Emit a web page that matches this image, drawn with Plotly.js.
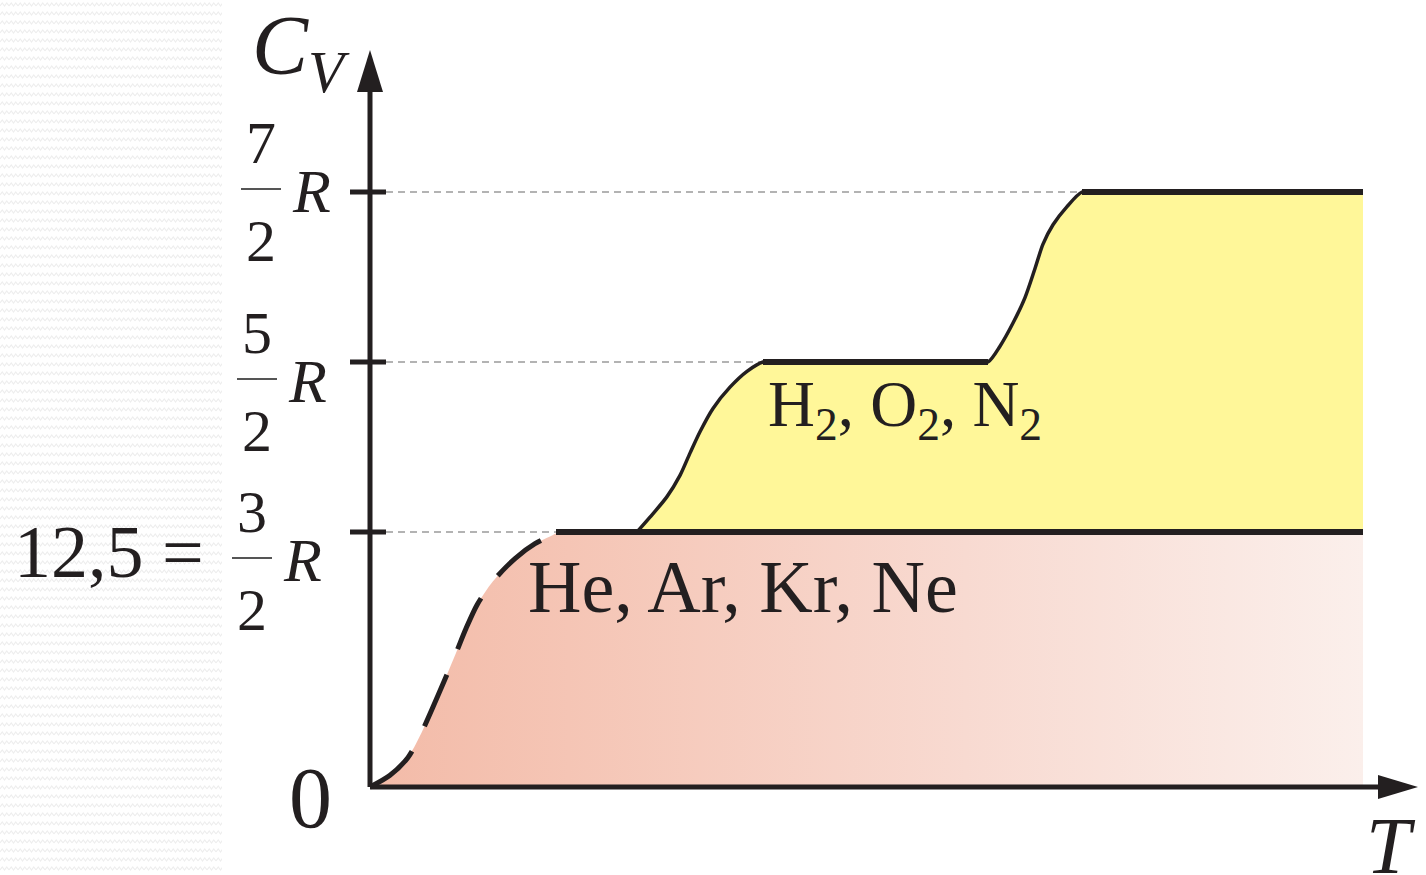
<!DOCTYPE html>
<html>
<head>
<meta charset="utf-8">
<script src="https://cdn.plot.ly/plotly-3.0.1.min.js"></script>
<style>
  html, body { margin: 0; padding: 0; background: #ffffff; }
  #wrap { position: relative; width: 1426px; height: 875px; overflow: hidden; }
  #texture {
    position: absolute; left: 0; top: 0; width: 222px; height: 875px;
    background-image: url("data:image/svg+xml;utf8,<svg xmlns='http://www.w3.org/2000/svg' width='9' height='9'><polyline points='0,6 2.25,3 4.5,6 6.75,3 9,6' fill='none' stroke='%23eeeeee' stroke-width='1.2'/></svg>");
    background-size: 9px 9px;
  }
  #chart { position: absolute; left: 0; top: 0; width: 1426px; height: 875px; }
</style>
</head>
<body>
<div id="wrap">
  <div id="texture"></div>
  <div id="chart"></div>
</div>
<script>
// Molar heat capacity C_V (in units of R) versus temperature T (arbitrary units)

// Levels marked on the C_V axis, in units of R
const levelValues = [1.5, 2.5, 3.5];
const levelNumerators = ['3', '5', '7'];
const levelDenominators = ['2', '2', '2'];

// Monatomic gases: dashed low-temperature rise, then flat 3/2 R
const monatomicRiseT  = [0, 0.20, 0.38, 0.50, 0.62, 0.74, 0.86, 0.96, 1.07, 1.23, 1.45, 1.65, 1.83, 1.88];
const monatomicRiseCv = [0, 0.069, 0.174, 0.301, 0.458, 0.620, 0.788, 0.932, 1.071, 1.210, 1.344, 1.431, 1.483, 1.5];
const monatomicFlatT  = [1.86, 9.93];
const monatomicFlatCv = [1.5, 1.5];

// Diatomic gases: steps 3/2 R -> 5/2 R -> 7/2 R
const diatomicT  = [2.67, 2.80, 2.97, 3.10, 3.20, 3.30, 3.43, 3.60, 3.77, 3.93, 4.05, 6.06, 6.18,
                    6.30, 6.43, 6.55, 6.65, 6.73, 6.83, 6.97, 7.12, 7.25, 9.93];
const diatomicCv = [1.5, 1.587, 1.708, 1.833, 1.964, 2.090, 2.227, 2.352, 2.445, 2.5, 2.5, 2.5, 2.5,
                    2.593, 2.729, 2.879, 3.05, 3.193, 3.307, 3.414, 3.5, 3.5, 3.5];

// Region labels
const monatomicLabel = 'He, Ar, Kr, Ne';
const diatomicLabel = 'H<sub>2</sub>, O<sub>2</sub>, N<sub>2</sub>';
const cvReference = '12,5 =';

// ---- page geometry ----
const W = 1426, H = 875;
const M = { l: 340, r: 6, t: 40, b: 71 };
const plotW = W - M.l - M.r;         // 1080
const plotH = H - M.t - M.b;         // 764
const pxPerT = 100, pxPerR = 170;
const xRange = [-0.3, -0.3 + plotW / pxPerT];
const yRange = [-0.1, -0.1 + plotH / pxPerR];
const px2x = px => (px - M.l) / plotW;
const py2y = py => (H - M.b - py) / plotH;

const INK = '#231f20';
const SERIF = 'Liberation Serif';

// ---- traces ----
const traces = [];

// pink area under the monatomic curve
traces.push({
  x: monatomicRiseT.concat(monatomicFlatT),
  y: monatomicRiseCv.concat(monatomicFlatCv),
  mode: 'lines', line: { width: 0, shape: 'spline', smoothing: 0.8 },
  fill: 'tozeroy',
  fillgradient: {
    type: 'horizontal',
    colorscale: [[0, '#f3bba8'], [0.2, '#f5c5b5'], [0.6, '#f8dad1'], [1, '#fbefeb']]
  },
  hoverinfo: 'skip', showlegend: false
});

// base of the yellow band at 3/2 R
traces.push({
  x: [diatomicT[0], diatomicT[diatomicT.length - 1]],
  y: [diatomicCv[0], diatomicCv[0]],
  mode: 'lines', line: { width: 0 }, hoverinfo: 'skip', showlegend: false
});

// diatomic curve with yellow fill down to 3/2 R
traces.push({
  x: diatomicT, y: diatomicCv,
  mode: 'lines', line: { color: INK, width: 3.5, shape: 'spline', smoothing: 0.8 },
  fill: 'tonexty', fillcolor: '#fff799',
  hoverinfo: 'skip', showlegend: false
});

// monatomic dashed rise
traces.push({
  x: monatomicRiseT, y: monatomicRiseCv,
  mode: 'lines', line: { color: INK, width: 5, dash: '56px,28px', shape: 'spline', smoothing: 0.8 },
  hoverinfo: 'skip', showlegend: false
});

// monatomic plateau
traces.push({
  x: monatomicFlatT, y: monatomicFlatCv,
  mode: 'lines', line: { color: INK, width: 6 },
  hoverinfo: 'skip', showlegend: false
});

// diatomic plateaus drawn heavier: runs of equal C_V
let runStart = 0;
for (let i = 1; i <= diatomicCv.length; i++) {
  if (i === diatomicCv.length || diatomicCv[i] !== diatomicCv[runStart]) {
    if (i - 1 > runStart && diatomicCv[runStart] > diatomicCv[0]) {
      traces.push({
        x: [diatomicT[runStart], diatomicT[i - 1]],
        y: [diatomicCv[runStart], diatomicCv[i - 1]],
        mode: 'lines', line: { color: INK, width: 6 },
        hoverinfo: 'skip', showlegend: false
      });
    }
    runStart = i;
  }
}

// ---- shapes ----
const shapes = [];

// where each level is first reached by a curve
function firstReach(v) {
  let i = monatomicFlatCv.indexOf(v);
  if (i >= 0) return monatomicFlatT[i];
  i = diatomicCv.indexOf(v);
  return diatomicT[i];
}

// dashed guide lines from the axis to each plateau
levelValues.forEach(v => {
  shapes.push({
    type: 'line', xref: 'x', yref: 'y', layer: 'below',
    x0: 0.16, x1: firstReach(v), y0: v, y1: v,
    line: { color: '#9a9a9a', width: 1.5, dash: '7px,5px' }
  });
});

// axes
const yTip = 4.335, xTip = 10.48;
shapes.push({ type: 'line', xref: 'x', yref: 'y', x0: 0, x1: 0, y0: 0, y1: yTip - 0.2,
  line: { color: INK, width: 5 } });
shapes.push({ type: 'line', xref: 'x', yref: 'y', x0: 0, x1: xTip - 0.3, y0: 0, y1: 0,
  line: { color: INK, width: 5 } });
// arrowheads
shapes.push({ type: 'path', xref: 'x', yref: 'y', xsizemode: 'pixel', ysizemode: 'pixel',
  xanchor: 0, yanchor: yTip, path: 'M -13,-42 L 0,0 L 13,-42 Z',
  fillcolor: INK, line: { width: 0 } });
shapes.push({ type: 'path', xref: 'x', yref: 'y', xsizemode: 'pixel', ysizemode: 'pixel',
  xanchor: xTip, yanchor: 0, path: 'M -40,-12 L 0,0 L -40,12 Z',
  fillcolor: INK, line: { width: 0 } });

// tick marks crossing the C_V axis
levelValues.forEach(v => {
  shapes.push({ type: 'line', xref: 'x', yref: 'y', x0: -0.2, x1: 0.16, y0: v, y1: v,
    line: { color: INK, width: 5 } });
});

// ---- annotations ----
const annotations = [];
const txt = (text, x, y, size, extra) => Object.assign({
  text: text, xref: 'paper', yref: 'paper', x: px2x(x), y: py2y(y),
  xanchor: 'center', yanchor: 'middle', showarrow: false,
  font: { family: SERIF, size: size, color: INK }
}, extra || {});

// fraction labels for the levels: numerator / bar / denominator, then R
const barShift = [26, 17, -3];     // bar position below the tick, px
const fracX = [252, 257, 261];     // fraction centre, px
levelValues.forEach((v, i) => {
  const common = { xref: 'paper', yref: 'y', y: v, xanchor: 'center', yanchor: 'middle', showarrow: false };
  annotations.push(Object.assign({}, common, {
    text: levelNumerators[i], x: px2x(fracX[i]), yshift: -(barShift[i] - 46),
    font: { family: SERIF, size: 60, color: INK }
  }));
  annotations.push(Object.assign({}, common, {
    text: levelDenominators[i], x: px2x(fracX[i]), yshift: -(barShift[i] + 52),
    font: { family: SERIF, size: 60, color: INK }
  }));
  annotations.push(Object.assign({}, common, {
    text: '<i>R</i>', x: px2x(fracX[i] + 50), yshift: -(barShift[i] + 2),
    font: { family: SERIF, size: 62, color: INK }
  }));
  shapes.push({ type: 'line', xref: 'paper', yref: 'y', ysizemode: 'pixel', yanchor: v,
    x0: px2x(fracX[i] - 20), x1: px2x(fracX[i] + 20), y0: -barShift[i], y1: -barShift[i],
    line: { color: '#555555', width: 2 } });
});

annotations.push(txt(cvReference, 206, 552, 74, { xanchor: 'right' }));
annotations.push(txt('<i>C</i><sub><i>V</i></sub>', 250, 52, 84, { xanchor: 'left' }));
annotations.push(txt('<i>T</i>', 1391, 846, 80));
annotations.push(txt('0', 310, 798, 86));
annotations.push(txt(monatomicLabel, 526, 587, 74, { xanchor: 'left' }));
annotations.push(txt(diatomicLabel, 766, 409, 65, { xanchor: 'left' }));

const layout = {
  width: W, height: H,
  margin: M,
  paper_bgcolor: 'rgba(0,0,0,0)', plot_bgcolor: 'rgba(0,0,0,0)',
  showlegend: false,
  xaxis: { range: xRange, visible: false, fixedrange: true },
  yaxis: { range: yRange, visible: false, fixedrange: true },
  shapes: shapes,
  annotations: annotations,
  font: { family: SERIF, color: INK }
};

Plotly.newPlot('chart', traces, layout, { staticPlot: true, displayModeBar: false });
</script>
</body>
</html>
